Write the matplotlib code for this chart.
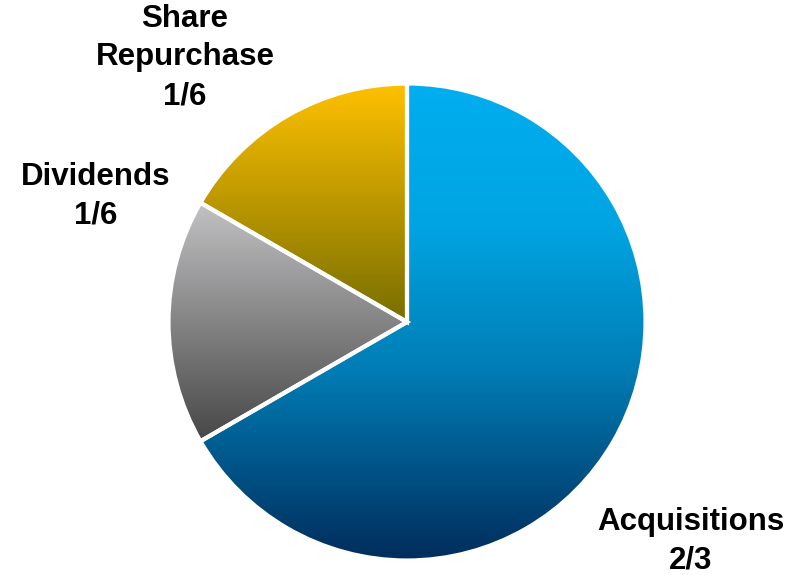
import numpy as np
import matplotlib
matplotlib.use("Agg")
import matplotlib.pyplot as plt
from matplotlib.colors import LinearSegmentedColormap

# Data
categories = ["Acquisitions", "Dividends", "Share Repurchase"]
values = [2/3, 1/6, 1/6]
value_labels = ["2/3", "1/6", "1/6"]

# Styling
gradients = [
    [(0.0, "#00AEEF"), (0.3, "#00A4E2"), (0.6, "#007DB5"), (1.0, "#002D5C")],
    [(0.0, "#C2C2C4"), (1.0, "#474747")],
    [(0.0, "#FFC100"), (1.0, "#776E00")],
]
label_pos = [(691, 34), (96, 378.5), (185, 517.5)]

W, H = 799, 575
fig = plt.figure(figsize=(W / 100, H / 100), dpi=100)
ax = fig.add_axes([0, 0, 1, 1])

cx, cy, r = 407, 253, 238.5
wedges, _ = ax.pie(values, startangle=90, counterclock=False,
                   center=(cx, cy), radius=r,
                   wedgeprops=dict(edgecolor="white", linewidth=3, facecolor="none"))

grad = np.linspace(0, 1, 256).reshape(-1, 1)
for w, stops in zip(wedges, gradients):
    w.set_zorder(3)
    ext = w.get_path().get_extents()
    cmap = LinearSegmentedColormap.from_list("g", stops)
    im = ax.imshow(grad, cmap=cmap, aspect="auto",
                   extent=(ext.x0, ext.x1, ext.y0, ext.y1),
                   origin="upper", zorder=2, interpolation="bilinear")
    im.set_clip_path(w)

for (x, y), cat, vl in zip(label_pos, categories, value_labels):
    txt = cat.replace(" ", "\n") + "\n" + vl
    ax.text(x, y, txt, ha="center", va="center", fontsize=22.5,
            fontweight="bold", family="Liberation Sans", linespacing=1.38,
            color="black", zorder=5)

ax.set_xlim(0, W)
ax.set_ylim(0, H)
ax.set_aspect("equal")
ax.axis("off")
fig.savefig("out.png", dpi=100)
